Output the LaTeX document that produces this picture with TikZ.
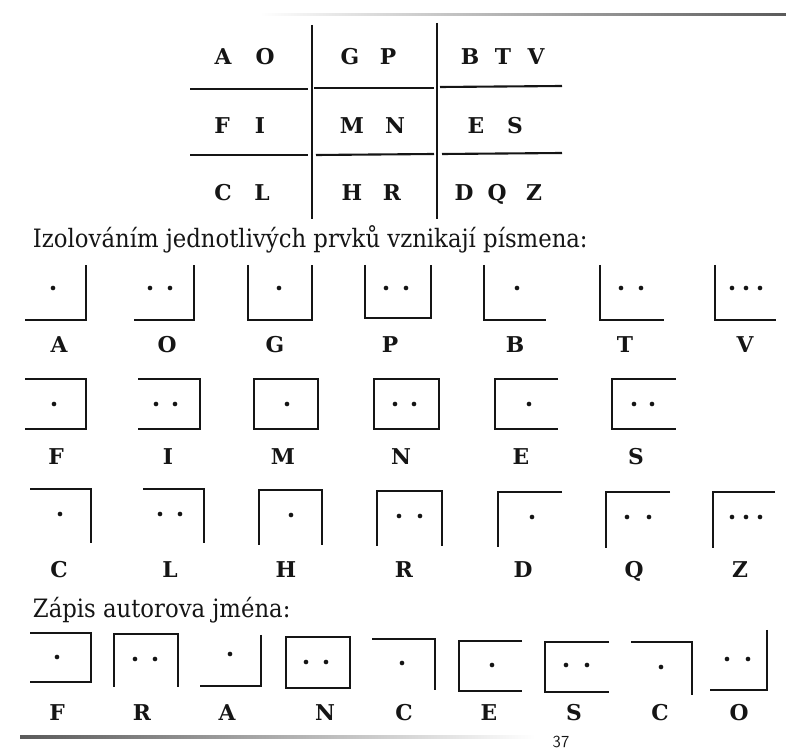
\documentclass[tikz,border=0pt]{standalone}
\usepackage{fontspec}
\setmainfont{DejaVu Serif Condensed}
\newfontfamily\letterfont{DejaVu Serif}
\usetikzlibrary{positioning}
\definecolor{pg-ink}{HTML}{151515}
\definecolor{pg-rule}{HTML}{5A5A5A}
\newcommand{\pgdot}[2]{\fill[pg-ink] (#1,#2) circle[radius=0.58mm];}

\begin{document}
\begin{tikzpicture}[x=0.25mm,y=-0.25mm,
  pen/.style={pg-ink,line width=1.5pt},
  gridline/.style={pg-ink,line width=1.5pt},
  gridletter/.style={pg-ink,anchor=base,yshift=-1.9mm,font=\letterfont\fontsize{15.5}{18}\selectfont\bfseries},
  symlabel/.style={pg-ink,anchor=base,yshift=-1.9mm,font=\letterfont\fontsize{15.5}{18}\selectfont\bfseries},
  head/.style={pg-ink,anchor=west,font=\fontsize{18}{21}\selectfont}]
\useasboundingbox (0,0) rectangle (786,751);

% ============ page rules ============
\shade[left color=white,right color=pg-rule] (260,13.5) rectangle (786,15.5);
\shade[left color=pg-rule,right color=white] (20,736) rectangle (535,738.5);
\node[pg-ink,anchor=base,inner sep=0pt,font=\sffamily\fontsize{12}{14}\selectfont] (pageno) at (561,748) {37};

% ============ key grid ============
\draw[gridline] (312,25) -- (312,219);
\draw[gridline] (437,23) -- (437,219);
\draw[gridline] (190,89) -- (308,89);
\draw[gridline] (314,88) -- (434,88);
\draw[gridline] (440,87) -- (562,86);
\draw[gridline] (190,155) -- (308,155);
\draw[gridline] (316,155) -- (434,154);
\draw[gridline] (442,154) -- (562,153);

\node[gridletter] (gA) at (223,57) {A};
\node[gridletter] (gO) at (265,57) {O};
\node[gridletter] (gG) at (350,57) {G};
\node[gridletter] (gP) at (388,57) {P};
\node[gridletter] (gB) at (470,57) {B};
\node[gridletter] (gT) at (503,57) {T};
\node[gridletter] (gV) at (536,57) {V};

\node[gridletter] (gF) at (222,126) {F};
\node[gridletter] (gI) at (260,126) {I};
\node[gridletter] (gM) at (352,126) {M};
\node[gridletter] (gN) at (395,126) {N};
\node[gridletter] (gE) at (476,126) {E};
\node[gridletter] (gS) at (515,126) {S};

\node[gridletter] (gC) at (223,193) {C};
\node[gridletter] (gL) at (262,193) {L};
\node[gridletter] (gH) at (352,193) {H};
\node[gridletter] (gR) at (392,193) {R};
\node[gridletter] (gD) at (464,193) {D};
\node[gridletter] (gQ) at (497,193) {Q};
\node[gridletter] (gZ) at (534,193) {Z};

\node[head] (headA) at (28,239) {Izolováním jednotlivých prvků vznikají písmena:};

% ============ row 1: A O G P B T V ============
\draw[pen] (25,320) -- (86,320) -- (86,265);
\pgdot{53}{288}
\draw[pen] (134,320) -- (194,320) -- (194,265);
\pgdot{150}{288} \pgdot{170}{288}
\draw[pen] (248,265) -- (248,320) -- (312,320) -- (312,265);
\pgdot{279}{288}
\draw[pen] (365,265) -- (365,318) -- (431,318) -- (431,265);
\pgdot{386}{288} \pgdot{406}{288}
\draw[pen] (484,265) -- (484,320) -- (546,320);
\pgdot{517}{288}
\draw[pen] (600,265) -- (600,320) -- (664,320);
\pgdot{621}{288} \pgdot{641}{288}
\draw[pen] (715,265) -- (715,320) -- (776,320);
\pgdot{732}{288} \pgdot{746}{288} \pgdot{760}{288}

\node[symlabel] (lA) at (59,345) {A};
\node[symlabel] (lO) at (167,345) {O};
\node[symlabel] (lG) at (275,345) {G};
\node[symlabel] (lP) at (390,345) {P};
\node[symlabel] (lB) at (515,345) {B};
\node[symlabel] (lT) at (625,345) {T};
\node[symlabel] (lV) at (745,345) {V};

% ============ row 2: F I M N E S ============
\draw[pen] (25,379) -- (86,379) -- (86,429) -- (25,429);
\pgdot{54}{404}
\draw[pen] (138,379) -- (200,379) -- (200,429) -- (138,429);
\pgdot{156}{404} \pgdot{175}{404}
\draw[pen] (254,379) rectangle (318,429);
\pgdot{287}{404}
\draw[pen] (374,379) rectangle (439,429);
\pgdot{395}{404} \pgdot{414}{404}
\draw[pen] (558,379) -- (495,379) -- (495,429) -- (558,429);
\pgdot{529}{404}
\draw[pen] (676,379) -- (612,379) -- (612,429) -- (676,429);
\pgdot{634}{404} \pgdot{652}{404}

\node[symlabel] (lF) at (56,457) {F};
\node[symlabel] (lI) at (168,457) {I};
\node[symlabel] (lM) at (283,457) {M};
\node[symlabel] (lN) at (401,457) {N};
\node[symlabel] (lE) at (521,457) {E};
\node[symlabel] (lS) at (636,457) {S};

% ============ row 3: C L H R D Q Z ============
\draw[pen] (30,489) -- (91,489) -- (91,543);
\pgdot{60}{514}
\draw[pen] (143,489) -- (204,489) -- (204,543);
\pgdot{160}{514} \pgdot{180}{514}
\draw[pen] (259,545) -- (259,490) -- (322,490) -- (322,545);
\pgdot{291}{515}
\draw[pen] (377,546) -- (377,491) -- (442,491) -- (442,546);
\pgdot{399}{516} \pgdot{420}{516}
\draw[pen] (562,492) -- (498,492) -- (498,547);
\pgdot{532}{517}
\draw[pen] (670,492) -- (606,492) -- (606,548);
\pgdot{627}{517} \pgdot{649}{517}
\draw[pen] (775,492) -- (713,492) -- (713,548);
\pgdot{732}{517} \pgdot{746}{517} \pgdot{760}{517}

\node[symlabel] (lC) at (59,570) {C};
\node[symlabel] (lL) at (170,570) {L};
\node[symlabel] (lH) at (286,570) {H};
\node[symlabel] (lR) at (404,570) {R};
\node[symlabel] (lD) at (523,570) {D};
\node[symlabel] (lQ) at (634,570) {Q};
\node[symlabel] (lZ) at (740,570) {Z};

\node[head] (headB) at (28,610) {Zápis autorova jména:};

% ============ row 4: F R A N C E S C O ============
\draw[pen] (30,633) -- (91,633) -- (91,682) -- (30,682);
\pgdot{57}{657}
\draw[pen] (114,687) -- (114,634) -- (178,634) -- (178,687);
\pgdot{135}{659} \pgdot{155}{659}
\draw[pen] (261,635) -- (261,686) -- (200,686);
\pgdot{230}{654}
\draw[pen] (286,637) rectangle (350,688);
\pgdot{306}{662} \pgdot{326}{662}
\draw[pen] (372,639) -- (435,639) -- (435,690);
\pgdot{402}{663}
\draw[pen] (522,641) -- (459,641) -- (459,691) -- (522,691);
\pgdot{492}{665}
\draw[pen] (609,642) -- (545,642) -- (545,692) -- (609,692);
\pgdot{566}{665} \pgdot{587}{665}
\draw[pen] (631,642) -- (692,642) -- (692,695);
\pgdot{661}{667}
\draw[pen] (767,630) -- (767,690) -- (710,690);
\pgdot{727}{659} \pgdot{748}{659}

\node[symlabel] (nF) at (57,713) {F};
\node[symlabel] (nR) at (142,713) {R};
\node[symlabel] (nA) at (227,713) {A};
\node[symlabel] (nN) at (325,713) {N};
\node[symlabel] (nC) at (404,713) {C};
\node[symlabel] (nE) at (489,713) {E};
\node[symlabel] (nS) at (574,713) {S};
\node[symlabel] (nC2) at (660,713) {C};
\node[symlabel] (nO) at (739,713) {O};

\end{tikzpicture}
\end{document}
